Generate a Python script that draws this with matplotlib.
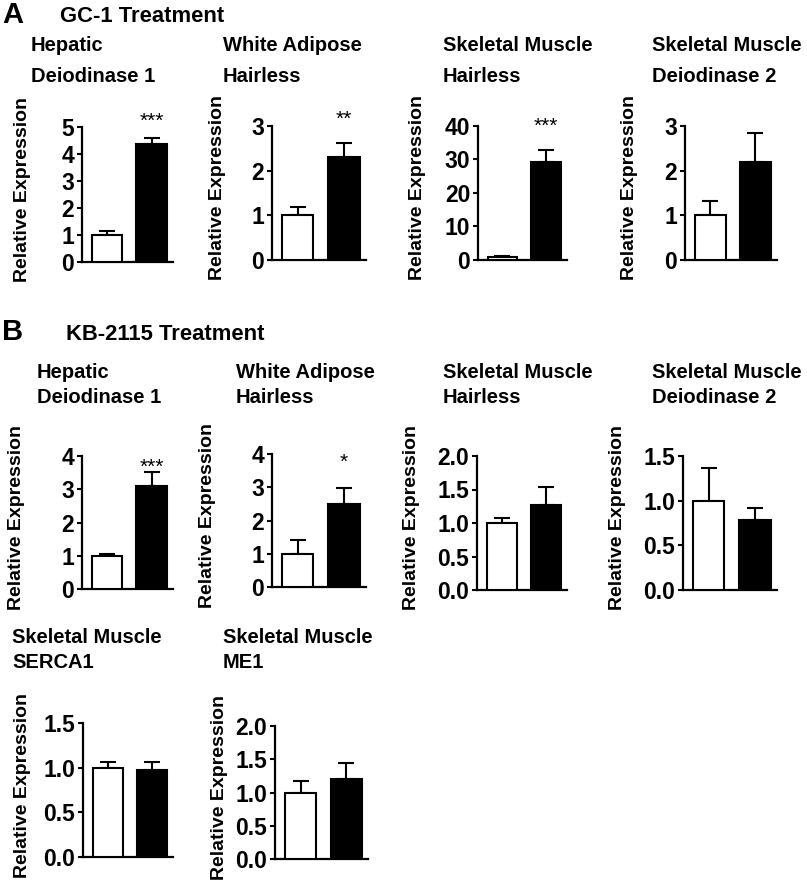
import matplotlib
matplotlib.use('Agg')
import matplotlib.pyplot as plt
import numpy as np

plt.rcParams['font.family'] = ['Liberation Sans', 'DejaVu Sans']

W, H = 807, 883

# Panel data: (control, treated), upward error bars
titles = [
    ('Hepatic', 'Deiodinase 1'),
    ('White Adipose', 'Hairless'),
    ('Skeletal Muscle', 'Hairless'),
    ('Skeletal Muscle', 'Deiodinase 2'),
    ('Hepatic', 'Deiodinase 1'),
    ('White Adipose', 'Hairless'),
    ('Skeletal Muscle', 'Hairless'),
    ('Skeletal Muscle', 'Deiodinase 2'),
    ('Skeletal Muscle', 'SERCA1'),
    ('Skeletal Muscle', 'ME1'),
]
control_vals = [1.0, 1.0, 1.0, 1.0, 1.0, 1.0, 1.0, 1.0, 1.0, 1.0]
control_err = [0.16, 0.18, 0.25, 0.32, 0.06, 0.4, 0.07, 0.37, 0.06, 0.17]
treated_vals = [4.38, 2.31, 29.4, 2.19, 3.11, 2.5, 1.27, 0.78, 0.97, 1.21]
treated_err = [0.22, 0.3, 3.4, 0.66, 0.4, 0.47, 0.26, 0.14, 0.09, 0.24]
y_max = [5, 3, 40, 3, 4, 4, 2.0, 1.5, 1.5, 2.0]
y_step = [1, 1, 10, 1, 1, 1, 0.5, 0.5, 0.5, 0.5]
stars = ['***', '**', '***', '', '***', '*', '', '', '', '']

# axes boxes in pixels: left, top, right, bottom
boxes = [
    (82, 127, 173, 262), (272, 126, 366, 260), (478, 126, 567, 260), (685, 126, 777, 260),
    (82, 456, 173, 589), (272, 454, 366, 587), (477, 456, 567, 590), (683, 456, 777, 590),
    (83, 723, 173, 857), (275, 726, 368, 859),
]
# title positions (left x, baseline of first line, baseline of second line)
title_pos = [
    (31, 51, 82), (223, 51, 82), (443, 51, 82), (652, 51, 82),
    (37, 378, 403), (236, 378, 403), (443, 378, 403), (652, 378, 403),
    (12, 643, 668), (223, 643, 668),
]
ylabel_x = [23, 218, 417, 629, 17, 208, 411, 618, 23, 219]
star_y = [5.2, 3.15, 40.0, 0, 3.65, 3.75, 0, 0, 0, 0]

fig = plt.figure(figsize=(W / 100, H / 100), dpi=100)

fig.text(2 / W, 1 - 23 / H, 'A', fontsize=21, fontweight='bold')
fig.text(60 / W, 1 - 22 / H, 'GC-1 Treatment', fontsize=15.8, fontweight='bold')
fig.text(2 / W, 1 - 340 / H, 'B', fontsize=21, fontweight='bold')
fig.text(66 / W, 1 - 340 / H, 'KB-2115 Treatment', fontsize=15.8, fontweight='bold')

for i in range(len(titles)):
    l, t, r, b = boxes[i]
    ax = fig.add_axes([l / W, 1 - b / H, (r - l) / W, (b - t) / H])
    x = np.array([0, 1])
    vals = [control_vals[i], treated_vals[i]]
    errs = [control_err[i], treated_err[i]]
    ax.bar(x, vals, width=0.68, color=['white', 'black'], edgecolor='black',
           linewidth=1.5, zorder=3)
    ax.errorbar(x, vals, yerr=[[0, 0], errs], fmt='none', ecolor='black',
                elinewidth=1.5, capsize=5.5, capthick=1.5, zorder=2)
    ax.set_xlim(-0.56, 1.48)
    ax.set_ylim(0, y_max[i])
    ticks = np.arange(0, y_max[i] + y_step[i] / 2, y_step[i])
    ax.set_yticks(ticks)
    if y_step[i] < 1:
        ax.set_yticklabels([f'{v:.1f}' for v in ticks])
    else:
        ax.set_yticklabels([f'{int(v)}' for v in ticks])
    ax.set_xticks([])
    for s in ['top', 'right']:
        ax.spines[s].set_visible(False)
    for s in ['left', 'bottom']:
        ax.spines[s].set_linewidth(1.6)
    ax.tick_params(axis='y', length=3.5, width=1.5, pad=2, labelsize=16.5)
    for lab in ax.get_yticklabels():
        lab.set_fontweight('bold')
    if stars[i]:
        ax.text(1, star_y[i], stars[i], ha='center', va='center', fontsize=15,
                clip_on=False)

    tx, ty1, ty2 = title_pos[i]
    fig.text(tx / W, 1 - ty1 / H, titles[i][0], fontsize=14.5, fontweight='bold',
             va='baseline')
    fig.text(tx / W, 1 - ty2 / H, titles[i][1], fontsize=14.5, fontweight='bold',
             va='baseline')
    cy = (t + b) / 2 - 5
    fig.text(ylabel_x[i] / W, 1 - cy / H, 'Relative Expression', rotation=90,
             ha='center', va='center', fontsize=14, fontweight='bold')

fig.savefig('out.png', dpi=100, facecolor='white')
